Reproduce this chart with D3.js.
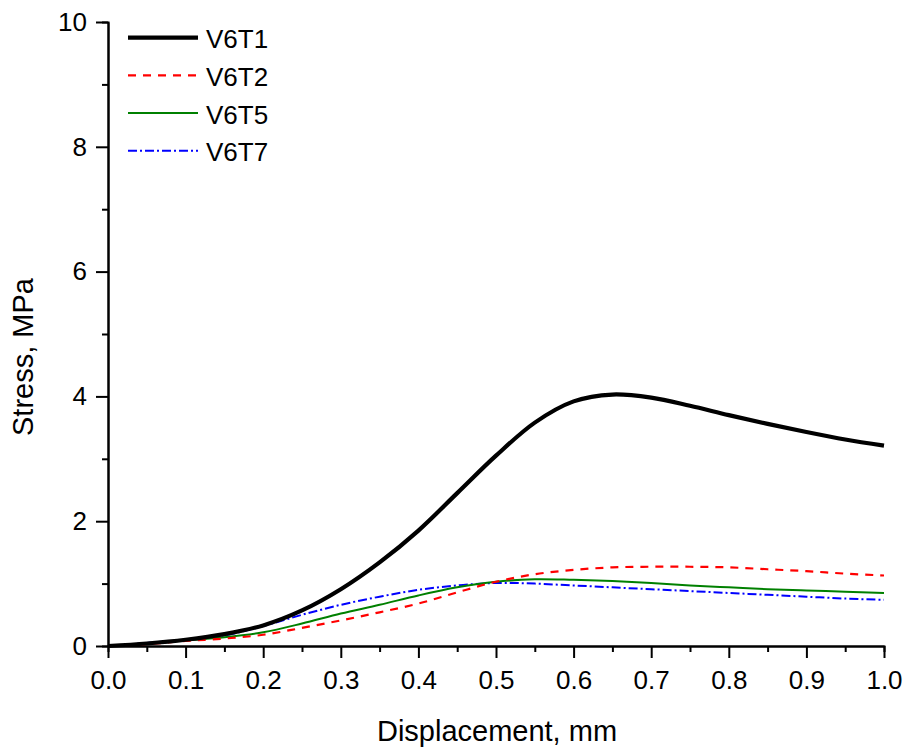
<!DOCTYPE html>
<html>
<head>
<meta charset="utf-8">
<script src="https://cdn.jsdelivr.net/npm/d3@7"></script>
<style>
  body { margin: 0; background: #fff; }
  text { font-family: "Liberation Sans", Arial, sans-serif; fill: #000; }
</style>
</head>
<body>
<svg id="chart" width="905" height="751"></svg>
<script>
// displacement (mm) sample points
const displacement = [0, 0.05, 0.1, 0.15, 0.2, 0.25, 0.3, 0.35, 0.4, 0.45, 0.5,
                      0.55, 0.6, 0.65, 0.7, 0.75, 0.8, 0.85, 0.9, 0.95, 1.0];
// stress (MPa)
const v6t1 = [0, 0.04, 0.10, 0.19, 0.33, 0.57, 0.91, 1.34, 1.85, 2.45, 3.05,
              3.58, 3.92, 4.03, 3.98, 3.85, 3.70, 3.56, 3.43, 3.31, 3.21];
const v6t2 = [0, 0.03, 0.08, 0.12, 0.18, 0.29, 0.41, 0.54, 0.68, 0.86, 1.03,
              1.15, 1.22, 1.26, 1.27, 1.27, 1.26, 1.23, 1.20, 1.16, 1.13];
const v6t5 = [0, 0.04, 0.09, 0.14, 0.22, 0.36, 0.52, 0.66, 0.81, 0.94, 1.03,
              1.07, 1.06, 1.04, 1.01, 0.97, 0.94, 0.91, 0.89, 0.87, 0.85];
const v6t7 = [0, 0.05, 0.10, 0.17, 0.32, 0.50, 0.66, 0.79, 0.90, 0.97, 1.01,
              1.00, 0.97, 0.94, 0.91, 0.88, 0.85, 0.82, 0.79, 0.76, 0.74];
const seriesNames = ['V6T1', 'V6T2', 'V6T5', 'V6T7'];
const xTicks = [0, 0.1, 0.2, 0.3, 0.4, 0.5, 0.6, 0.7, 0.8, 0.9, 1.0];
const yTicks = [0, 2, 4, 6, 8, 10];

const svg = d3.select('#chart');
const margin = {top: 22, right: 21, bottom: 105, left: 108};
const width = +svg.attr('width');
const height = +svg.attr('height');
const innerWidth = width - margin.left - margin.right;
const innerHeight = height - margin.top - margin.bottom;

const g = svg.append('g')
    .attr('transform', `translate(${margin.left},${margin.top})`);

const x = d3.scaleLinear().domain([0, 1]).range([0, innerWidth]);
const y = d3.scaleLinear().domain([0, 10]).range([innerHeight, 0]);

const styles = [
  {color: '#000000', width: 4.2, dash: null},
  {color: '#ff0000', width: 2.2, dash: '8,7'},
  {color: '#008000', width: 2, dash: null},
  {color: '#0000ff', width: 2, dash: '9,3,2,3'}
];
const series = [v6t1, v6t2, v6t5, v6t7].map((vals, i) => ({
  name: seriesNames[i],
  points: vals.map((v, j) => [displacement[j], v]),
  style: styles[i]
}));

// minor ticks
g.append('g')
    .attr('class', 'minor')
    .attr('transform', `translate(0,${innerHeight})`)
    .call(d3.axisBottom(x).tickValues(d3.range(0.05, 1, 0.1)).tickSize(6).tickFormat(''));
g.append('g')
    .attr('class', 'minor')
    .call(d3.axisLeft(y).tickValues(d3.range(1, 10, 2)).tickSize(6).tickFormat(''));

// major axes
g.append('g')
    .attr('class', 'axis')
    .attr('transform', `translate(0,${innerHeight})`)
    .call(d3.axisBottom(x).tickValues(xTicks).tickFormat(d3.format('.1f'))
      .tickSizeInner(12).tickSizeOuter(0).tickPadding(13));
g.append('g')
    .attr('class', 'axis')
    .call(d3.axisLeft(y).tickValues(yTicks).tickFormat(d3.format('d'))
      .tickSizeInner(12).tickSizeOuter(0).tickPadding(9));

g.selectAll('.axis, .minor').selectAll('path, line')
    .attr('stroke', '#000').attr('stroke-width', 2);
g.selectAll('.axis')
    .attr('font-size', 26)
    .attr('font-family', '"Liberation Sans", Arial, sans-serif');

// lines
const line = d3.line()
    .x(d => x(d[0]))
    .y(d => y(d[1]))
    .curve(d3.curveCatmullRom.alpha(0.5));

g.selectAll('.series')
  .data(series.slice().reverse())
  .enter().append('path')
    .attr('class', 'series')
    .attr('fill', 'none')
    .attr('stroke', d => d.style.color)
    .attr('stroke-width', d => d.style.width)
    .attr('stroke-dasharray', d => d.style.dash)
    .attr('d', d => line(d.points));

// axis titles
svg.append('text')
    .attr('x', 497)
    .attr('y', 741)
    .attr('text-anchor', 'middle')
    .style('font-size', '29px')
    .text('Displacement, mm');

svg.append('text')
    .attr('transform', 'translate(33,357) rotate(-90)')
    .attr('text-anchor', 'middle')
    .style('font-size', '29px')
    .text('Stress, MPa');

// legend
const legend = svg.selectAll('.legend')
  .data(series)
  .enter().append('g')
    .attr('class', 'legend')
    .attr('transform', (d, i) => `translate(128,${37.7 + i * 37.7})`);

legend.append('line')
    .attr('x1', 0).attr('x2', 70)
    .attr('stroke', d => d.style.color)
    .attr('stroke-width', d => d.style.width)
    .attr('stroke-dasharray', d => d.style.dash);

legend.append('text')
    .attr('x', 78)
    .attr('y', 10.5)
    .style('font-size', '26px')
    .text(d => d.name);
</script>
</body>
</html>
